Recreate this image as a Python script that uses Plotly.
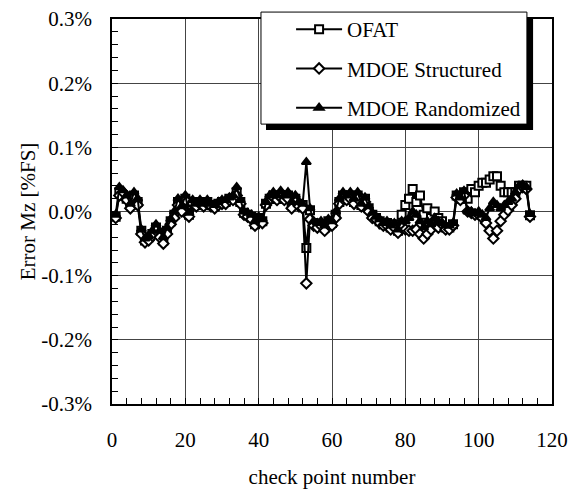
import plotly.graph_objects as go

# check point numbers 1..114
check_points = list(range(1, 115))

# y-axis tick positions (percent of full scale) and their labels
y_tick_values = [-0.3, -0.2, -0.1, 0.0, 0.1, 0.2, 0.3]
y_tick_labels = ["-0.3%", "-0.2%", "-0.1%", "0.0%", "0.1%", "0.2%", "0.3%"]

# Mz error in percent of full scale
ofat = [
    -0.008, 0.030, 0.025, 0.020, 0.010, 0.025, 0.015, -0.030, -0.045, -0.040,
    -0.035, -0.025, -0.035, -0.045, -0.030, -0.015, -0.005, 0.015, 0.005, 0.020,
    -0.005, 0.015, 0.010, 0.015, 0.010, 0.015, 0.010, 0.008, 0.012, 0.015,
    0.015, 0.020, 0.020, 0.030, 0.015, -0.002, -0.005, -0.008, -0.020, -0.010,
    -0.015, 0.012, 0.020, 0.025, 0.020, 0.025, 0.020, 0.025, 0.010, 0.020,
    0.012, 0.010, -0.057, 0.002, -0.018, -0.020, -0.020, -0.025, -0.015, -0.018,
    -0.005, 0.015, 0.025, 0.020, 0.025, 0.015, 0.025, 0.010, 0.020, 0.005,
    -0.005, -0.010, -0.015, -0.020, -0.018, -0.025, -0.020, -0.030, -0.005, 0.010,
    0.020, 0.035, 0.015, 0.025, -0.005, 0.005, -0.010, 0.000, -0.010, -0.015,
    -0.025, -0.025, -0.020, 0.025, 0.020, 0.030, 0.020, 0.035, 0.030, 0.040,
    0.045, 0.045, 0.050, 0.055, 0.055, 0.040, 0.030, 0.030, 0.030, 0.030,
    0.040, 0.040, 0.040, -0.006,
]

mdoe_structured = [
    -0.010, 0.025, 0.030, 0.018, 0.005, 0.022, 0.010, -0.035, -0.048, -0.045,
    -0.038, -0.030, -0.040, -0.050, -0.035, -0.020, -0.010, 0.010, 0.000, 0.018,
    -0.008, 0.012, 0.008, 0.012, 0.008, 0.012, 0.008, 0.005, 0.010, 0.012,
    0.012, 0.018, 0.018, 0.025, 0.012, -0.005, -0.008, -0.012, -0.022, -0.015,
    -0.018, 0.010, 0.018, 0.022, 0.018, 0.022, 0.018, 0.020, 0.005, 0.015,
    0.008, 0.005, -0.112, -0.012, -0.022, -0.025, -0.022, -0.030, -0.020, -0.022,
    -0.010, 0.012, 0.020, 0.018, 0.020, 0.012, 0.020, 0.008, 0.015, 0.000,
    -0.010, -0.012, -0.018, -0.022, -0.022, -0.028, -0.025, -0.033, -0.025, -0.028,
    -0.030, -0.030, -0.028, -0.035, -0.042, -0.035, -0.028, -0.020, -0.025, -0.020,
    -0.028, -0.028, -0.022, 0.022, 0.018, 0.025, 0.000, -0.002, -0.005, -0.005,
    -0.010, -0.018, -0.030, -0.042, -0.030, -0.015, -0.005, 0.002, 0.010, 0.020,
    0.035, 0.038, 0.035, -0.008,
]

mdoe_randomized = [
    -0.005, 0.038, 0.033, 0.025, 0.012, 0.030, 0.020, -0.028, -0.042, -0.038,
    -0.030, -0.020, -0.030, -0.040, -0.025, -0.012, 0.000, 0.020, 0.008, 0.025,
    -0.002, 0.018, 0.012, 0.018, 0.012, 0.018, 0.012, 0.010, 0.015, 0.018,
    0.018, 0.022, 0.025, 0.038, 0.018, 0.000, -0.002, -0.005, -0.015, -0.008,
    -0.012, 0.015, 0.025, 0.030, 0.025, 0.032, 0.025, 0.030, 0.015, 0.025,
    0.015, 0.012, 0.077, 0.005, -0.015, -0.018, -0.015, -0.022, -0.012, -0.015,
    0.000, 0.020, 0.030, 0.025, 0.030, 0.020, 0.030, 0.012, 0.022, 0.008,
    -0.002, -0.008, -0.012, -0.018, -0.015, -0.022, -0.018, -0.028, -0.015, -0.015,
    -0.010, 0.000, -0.005, -0.015, -0.025, -0.015, -0.020, -0.010, -0.015, -0.018,
    -0.022, -0.022, -0.018, 0.028, 0.022, 0.032, 0.000, 0.000, -0.003, 0.000,
    -0.005, -0.010, 0.005, 0.015, 0.010, 0.005, 0.010, 0.015, 0.020, 0.030,
    0.040, 0.042, 0.038, -0.004,
]

series = [
    ("OFAT", ofat, "square", "white", 8),
    ("MDOE Structured", mdoe_structured, "diamond", "white", 8),
    ("MDOE Randomized", mdoe_randomized, "triangle-up", "black", 8),
]

FONT = dict(family="Liberation Serif", size=21, color="black")

fig = go.Figure()
for name, values, symbol, fill, size in series:
    fig.add_trace(go.Scatter(
        x=check_points, y=values, name=name, mode="lines+markers",
        legendgroup=name,
        line=dict(color="black", width=2),
        marker=dict(symbol=symbol, size=size, color=fill,
                    line=dict(color="black", width=2)),
    ))

axis_common = dict(
    showline=True, linecolor="black", linewidth=1.5, mirror=True,
    ticks="inside", ticklen=6, tickcolor="black",
    showgrid=True, gridcolor="#444444", gridwidth=1,
    zeroline=False,
    tickfont=FONT,
)

fig.update_xaxes(
    range=[0, 120], dtick=20, tick0=0,
    minor=dict(dtick=4, ticks="inside", ticklen=6, tickcolor="black", showgrid=False),
    ticklabelstandoff=16,
    title=dict(text="check point number", font=FONT, standoff=22),
    **axis_common,
)
fig.update_yaxes(
    range=[-0.3, 0.3], tickvals=y_tick_values, ticktext=y_tick_labels,
    minor=dict(tick0=0, dtick=0.02, ticks="inside", ticklen=6, tickcolor="black",
               showgrid=False),
    ticklabelstandoff=14,
    title=dict(text="Error Mz [%FS]", font=FONT, standoff=0),
    **axis_common,
)

# legend frame with drop shadow
fig.add_shape(type="rect", xref="paper", yref="paper",
              x0=0.350, x1=0.957, y0=0.712, y1=1.005,
              fillcolor="black", line=dict(width=0), layer="above")
fig.add_shape(type="rect", xref="paper", yref="paper",
              x0=0.3386, x1=0.943, y0=0.727, y1=1.018,
              fillcolor="white", line=dict(color="black", width=1), layer="above")

fig.update_layout(
    width=577, height=489,
    margin=dict(l=112, r=25, t=19, b=85, autoexpand=False),
    paper_bgcolor="white", plot_bgcolor="white",
    font=FONT,
    showlegend=True,
    legend=dict(
        x=0.407, y=1.026, xanchor="left", yanchor="top",
        bgcolor="rgba(0,0,0,0)", borderwidth=0,
        font=FONT,
        itemwidth=46, tracegroupgap=9,
    ),
)

fig.write_html("out.html")
